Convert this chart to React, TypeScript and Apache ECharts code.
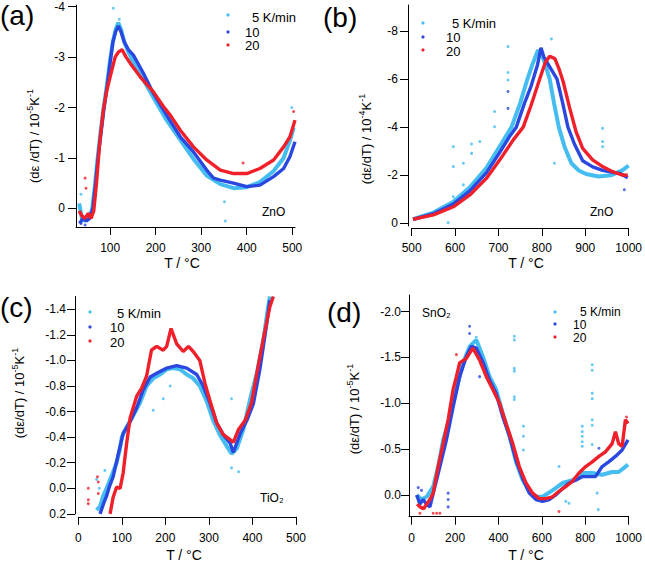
import React, { useEffect, useRef } from 'react';
import * as echarts from 'echarts';

const FONT = "'Liberation Sans', Arial, Helvetica, sans-serif";
const RATES = ['5 K/min', '10', '20'];
const COLORS = ['#45bdf0', '#2a48e0', '#f0202a'];

// ---------- (a) ZnO, 10^-5 K^-1 ----------
const A_XTICKS = [100, 200, 300, 400, 500];
const A_YTICKS = [-4, -3, -2, -1, 0];
const A_LB = [[32,-0.1],[38,0.2],[44,0.25],[50,0.15],[55,0.12],[60,0.05],[66,-0.4],[72,-0.95],[78,-1.45],[85,-1.95],[93,-2.45],[100,-2.95],[106,-3.3],[112,-3.55],[118,-3.68],[124,-3.55],[131,-3.3],[140,-3.1],[151,-2.9],[173,-2.55],[195,-2.2],[224,-1.75],[254,-1.36],[283,-0.98],[312,-0.65],[342,-0.48],[371,-0.4],[400,-0.42],[429,-0.52],[459,-0.74],[481,-1.0],[495,-1.35],[503,-1.6]];
const A_B = [[33,0.3],[40,0.2],[48,0.25],[55,0.2],[62,0.0],[68,-0.5],[74,-1.05],[80,-1.5],[86,-1.95],[93,-2.4],[100,-2.9],[106,-3.3],[112,-3.5],[118,-3.62],[124,-3.5],[131,-3.3],[140,-3.15],[151,-3.04],[173,-2.68],[195,-2.28],[224,-1.85],[254,-1.42],[283,-1.12],[312,-0.76],[327,-0.6],[342,-0.56],[371,-0.5],[400,-0.43],[429,-0.46],[459,-0.63],[481,-0.79],[495,-1.03],[506,-1.32]];
const A_R = [[32,0.05],[38,0.15],[45,0.2],[52,0.1],[58,0.2],[64,0.05],[70,-0.5],[77,-1.3],[85,-1.95],[93,-2.35],[100,-2.61],[111,-3.0],[118,-3.1],[126,-3.15],[135,-3.0],[144,-2.88],[166,-2.61],[195,-2.31],[217,-2.02],[232,-1.85],[254,-1.55],[283,-1.22],[312,-0.96],[342,-0.76],[371,-0.69],[400,-0.69],[429,-0.79],[459,-0.96],[481,-1.22],[495,-1.42],[506,-1.75]];
const A_OUT_LB = [[107,-3.97],[120,-3.75],[351,-0.13],[353,0.25],[499,-2.0],[36,-0.28]];
const A_OUT_B = [[36,0.3],[45,0.33]];
const A_OUT_R = [[45,-0.6],[47,-0.4],[392,-0.9],[503,-1.92]];

// ---------- (b) ZnO, 10^-4 K^-1 ----------
const B_XTICKS = [500, 600, 700, 800, 900, 1000];
const B_YTICKS = [-8, -6, -4, -2, 0];
const B_LB = [[503,-0.17],[550,-0.45],[596,-0.9],[634,-1.5],[672,-2.3],[703,-3.2],[730,-4.0],[750,-5.0],[765,-5.9],[778,-6.6],[791,-7.2],[800,-7.0],[808,-6.6],[818,-6.0],[828,-5.0],[839,-4.0],[852,-3.2],[868,-2.5],[885,-2.2],[902,-2.05],[930,-1.95],[960,-2.0],[985,-2.2],[1000,-2.4]];
const B_B = [[503,-0.17],[550,-0.4],[596,-0.8],[634,-1.35],[672,-2.1],[703,-2.95],[725,-3.6],[741,-4.0],[760,-5.0],[775,-5.7],[790,-6.6],[798,-7.3],[805,-6.9],[815,-6.6],[825,-6.3],[835,-6.0],[848,-5.0],[860,-4.0],[875,-3.3],[894,-2.6],[917,-2.35],[940,-2.2],[963,-2.12],[979,-2.08],[998,-1.9]];
const B_R = [[503,-0.17],[550,-0.35],[596,-0.69],[634,-1.18],[672,-1.87],[703,-2.64],[734,-3.47],[757,-4.0],[775,-4.9],[795,-6.0],[808,-6.7],[818,-6.95],[830,-6.85],[840,-6.4],[849,-5.9],[864,-4.8],[879,-3.8],[894,-3.12],[917,-2.64],[940,-2.36],[963,-2.15],[986,-2.01],[998,-2.0]];
const B_OUT_LB = [[596,-3.19],[596,-2.36],[596,-1.11],[619,-2.5],[619,-1.6],[638,-3.3],[638,-2.91],[657,-3.4],[691,-4.65],[691,-4.02],[722,-7.35],[722,-6.27],[722,-5.96],[822,-7.67],[829,-2.5],[940,-3.95],[940,-3.4],[940,-3.19],[584,-0.03]];
const B_OUT_B = [[722,-5.48],[722,-4.78],[990,-1.4]];
const B_OUT_R = [];

// ---------- (c) TiO2, 10^-5 K^-1 ----------
const C_XTICKS = [0, 100, 200, 300, 400, 500];
const C_YTICKS = [-1.4, -1.2, -1.0, -0.8, -0.6, -0.4, -0.2, 0.0, 0.2];
const C_LB = [[42,0.17],[50,0.14],[57,0.06],[65,0.0],[73,-0.07],[80,-0.13],[88,-0.2],[95,-0.3],[100,-0.4],[111,-0.48],[126,-0.57],[142,-0.67],[157,-0.8],[172,-0.86],[188,-0.89],[203,-0.93],[218,-0.94],[234,-0.93],[249,-0.89],[264,-0.86],[279,-0.8],[295,-0.68],[310,-0.53],[325,-0.42],[341,-0.33],[352,-0.27],[364,-0.31],[379,-0.46],[394,-0.69],[410,-0.9],[425,-1.16],[436,-1.42],[440,-1.5]];
const C_B = [[50,0.2],[58,0.12],[65,0.06],[72,-0.02],[80,-0.09],[92,-0.27],[103,-0.43],[119,-0.52],[134,-0.63],[149,-0.77],[165,-0.87],[180,-0.9],[203,-0.94],[226,-0.96],[249,-0.94],[272,-0.89],[287,-0.8],[302,-0.67],[318,-0.51],[333,-0.42],[349,-0.35],[356,-0.28],[372,-0.43],[387,-0.53],[402,-0.66],[417,-0.93],[433,-1.29],[440,-1.47]];
const C_R = [[73,0.2],[80,0.07],[88,-0.01],[96,0.0],[103,-0.12],[111,-0.35],[119,-0.55],[134,-0.72],[145,-0.78],[157,-0.88],[168,-1.08],[180,-1.11],[195,-1.08],[203,-1.11],[213,-1.25],[226,-1.13],[241,-1.07],[253,-1.11],[264,-1.07],[279,-1.0],[291,-0.82],[302,-0.69],[318,-0.51],[333,-0.42],[349,-0.38],[356,-0.36],[368,-0.46],[383,-0.53],[398,-0.67],[410,-0.9],[425,-1.17],[440,-1.42],[448,-1.5]];
const C_OUT_LB = [[352,-0.7],[352,-0.16],[368,-0.13],[195,-0.7],[172,-0.61],[211,-0.8],[61,-0.14],[42,-0.07],[60,0.1],[48,0.0]];
const C_OUT_B = [];
const C_OUT_R = [[23,0.0],[23,0.09],[23,0.12],[44,-0.09],[46,-0.05],[46,0.04]];

// ---------- (d) SnO2, 10^-5 K^-1 ----------
const D_XTICKS = [0, 200, 400, 600, 800, 1000];
const D_YTICKS = [-2.0, -1.5, -1.0, -0.5, 0.0];
const D_LB = [[23,0.0],[45,0.05],[69,0.02],[99,-0.09],[122,-0.31],[145,-0.6],[176,-0.85],[206,-1.15],[237,-1.44],[267,-1.62],[298,-1.69],[328,-1.51],[359,-1.29],[389,-1.15],[420,-0.89],[451,-0.64],[481,-0.36],[512,-0.16],[542,-0.04],[573,0.02],[603,0.02],[649,-0.05],[695,-0.13],[741,-0.16],[787,-0.24],[832,-0.24],[878,-0.22],[924,-0.25],[954,-0.25],[997,-0.33]];
const D_B = [[23,0.0],[38,0.1],[53,0.05],[68,0.1],[84,0.13],[107,-0.09],[130,-0.31],[160,-0.6],[191,-0.96],[221,-1.29],[252,-1.51],[275,-1.62],[298,-1.6],[328,-1.45],[359,-1.25],[389,-1.11],[420,-0.85],[451,-0.64],[481,-0.38],[512,-0.18],[542,-0.02],[573,0.05],[603,0.07],[634,0.05],[664,0.0],[695,-0.07],[725,-0.13],[756,-0.16],[787,-0.2],[817,-0.2],[847,-0.2],[878,-0.31],[908,-0.36],[939,-0.42],[970,-0.49],[997,-0.6]];
const D_R = [[25,0.1],[38,0.13],[55,0.15],[69,0.1],[84,0.05],[99,-0.02],[122,-0.31],[145,-0.56],[168,-0.82],[191,-1.15],[206,-1.29],[221,-1.44],[252,-1.49],[282,-1.6],[313,-1.47],[344,-1.29],[374,-1.15],[405,-1.0],[435,-0.78],[466,-0.56],[496,-0.31],[527,-0.13],[557,-0.02],[588,0.04],[618,0.04],[649,0.02],[679,-0.04],[710,-0.09],[741,-0.15],[771,-0.24],[802,-0.31],[832,-0.36],[863,-0.42],[893,-0.47],[924,-0.56],[939,-0.69],[954,-0.56],[970,-0.53],[985,-0.82],[997,-0.78]];
const D_OUT_LB = [[473,-1.73],[473,-1.69],[473,-1.38],[473,-1.35],[473,-1.07],[473,-1.04],[515,-0.75],[515,-0.64],[515,-0.49],[786,-0.75],[786,-0.69],[786,-0.64],[786,-0.58],[786,-0.53],[832,-1.42],[832,-1.36],[832,-1.11],[832,-1.05],[832,-0.82],[832,-0.76],[832,-0.55],[860,0.16],[855,-0.02],[679,-0.31],[710,0.07],[725,0.09],[298,-1.72]];
const D_OUT_B = [[267,-1.84],[267,-1.76],[168,-0.02],[168,0.05],[168,0.13],[313,-1.29],[863,-0.51],[30,-0.08],[45,-0.05]];
const D_OUT_R = [[38,0.2],[99,0.2],[115,0.2],[130,0.2],[679,0.18],[206,-1.53],[990,-0.85]];

const PANELS = [
  {
    grid: { left: 76, top: 5.2, width: 219, height: 221.8 },
    x: { min: 25, max: 506, ticks: A_XTICKS, offset: 0, margin: 15 },
    y: { min: -4.03, max: 0.37, ticks: A_YTICKS, offset: 0, dec: 0, margin: 11 },
    lines: [A_LB, A_B, A_R],
    outs: [A_OUT_LB, A_OUT_B, A_OUT_R],
  },
  {
    grid: { left: 411.7, top: 5, width: 217.6, height: 221 },
    x: { min: 500, max: 1000, ticks: B_XTICKS, offset: 2, margin: 14 },
    y: { min: -9.08, max: 0.11, ticks: B_YTICKS, offset: 3.7, dec: 0, margin: 10 },
    lines: [B_LB, B_B, B_R],
    outs: [B_OUT_LB, B_OUT_B, B_OUT_R],
  },
  {
    grid: { left: 78.3, top: 296.5, width: 217.7, height: 217.4 },
    x: { min: 0, max: 500, ticks: C_XTICKS, offset: 3, margin: 15 },
    y: { min: -1.5, max: 0.2, ticks: C_YTICKS, offset: 3.3, dec: 1, margin: 9 },
    lines: [C_LB, C_B, C_R],
    outs: [C_OUT_LB, C_OUT_B, C_OUT_R],
  },
  {
    grid: { left: 409, top: 295, width: 221, height: 221.7 },
    x: { min: -12.4, max: 1000, ticks: D_XTICKS, offset: 0, margin: 15 },
    y: { min: -2.18, max: 0.237, ticks: D_YTICKS, offset: 0, dec: 1, margin: 8 },
    lines: [D_LB, D_B, D_R],
    outs: [D_OUT_LB, D_OUT_B, D_OUT_R],
  },
];

const LEGENDS = [
  { dotX: 228, dotY: [15, 32, 45], tx: [252, 245, 245], ty: [17, 32, 45.5], fs: 13 },
  { dotX: 423, dotY: [23, 37, 50], tx: [452, 446, 446], ty: [23, 37, 51], fs: 13 },
  { dotX: 90, dotY: [312, 327, 341], tx: [117, 110, 110], ty: [313, 327, 342], fs: 13 },
  { dotX: 555, dotY: [312, 324, 337], tx: [580, 573, 573], ty: [312, 325, 338], fs: 12 },
];
const PANEL_LABELS = [
  { t: '(a)', x: 0, y: 15 },
  { t: '(b)', x: 323, y: 17 },
  { t: '(c)', x: 0, y: 307 },
  { t: '(d)', x: 327, y: 312 },
];
const MATERIALS = [
  { t: 'ZnO', x: 262, y: 212 },
  { t: 'ZnO', x: 590, y: 212 },
  { t: 'TiO₂', x: 260, y: 498 },
  { t: 'SnO₂', x: 422, y: 313 },
];
// y titles: [base text, exponent of ten]
const YTITLES = [
  { t: '(dε /dT) / 10', e: '-5', x: 33, y: 136 },
  { t: '(dε/dT) / 10', e: '-4', x: 365, y: 139 },
  { t: '(dε/dT) / 10', e: '-5', x: 18, y: 393 },
  { t: '(dε/dT) / 10', e: '-5', x: 353, y: 409 },
];
const XTITLES = [
  { t: 'T / °C', x: 182, y: 263 },
  { t: 'T / °C', x: 526, y: 263 },
  { t: 'T / °C', x: 184, y: 555 },
  { t: 'T / °C', x: 526, y: 555 },
];

function buildOption() {
  const grid: any[] = [];
  const xAxis: any[] = [];
  const yAxis: any[] = [];
  const series: any[] = [];
  PANELS.forEach((p, i) => {
    grid.push({ ...p.grid, containLabel: false });
    xAxis.push({
      type: 'value', gridIndex: i, min: p.x.min, max: p.x.max, offset: p.x.offset,
      axisLine: { show: true, onZero: false, lineStyle: { color: '#000', width: 1 } },
      axisTick: { show: true, length: 8, customValues: p.x.ticks, lineStyle: { color: '#000' } },
      axisLabel: { customValues: p.x.ticks, margin: p.x.margin, fontSize: 12, color: '#000', fontFamily: FONT, formatter: (v: number) => String(v) },
      splitLine: { show: false },
    });
    yAxis.push({
      type: 'value', gridIndex: i, inverse: true, min: p.y.min, max: p.y.max, offset: p.y.offset,
      axisLine: { show: true, onZero: false, lineStyle: { color: '#000', width: 1 } },
      axisTick: { show: true, length: 8, customValues: p.y.ticks, lineStyle: { color: '#000' } },
      axisLabel: { customValues: p.y.ticks, margin: p.y.margin, fontSize: 12, color: '#000', fontFamily: FONT, formatter: (v: number) => (p.y.dec ? v.toFixed(p.y.dec) : String(Math.round(v))) },
      splitLine: { show: false },
    });
    p.lines.forEach((d, k) => {
      series.push({
        type: 'line', name: RATES[k], xAxisIndex: i, yAxisIndex: i, data: d,
        showSymbol: false, symbol: 'none', silent: true, z: 2 + k,
        lineStyle: { color: COLORS[k], width: k === 0 ? 4 : 3.4 },
      });
    });
    p.outs.forEach((d, k) => {
      if (!d.length) return;
      series.push({
        type: 'scatter', name: RATES[k], xAxisIndex: i, yAxisIndex: i, data: d,
        symbol: 'circle', symbolSize: 3, silent: true, z: 2 + k,
        itemStyle: { color: COLORS[k] },
      });
    });
  });

  const graphic: any[] = [];
  LEGENDS.forEach((L) => {
    RATES.forEach((r, k) => {
      graphic.push({ type: 'circle', shape: { cx: L.dotX, cy: L.dotY[k], r: 1.6 }, style: { fill: COLORS[k] }, silent: true });
      graphic.push({ type: 'text', x: L.tx[k], y: L.ty[k], style: { text: r, font: `${L.fs}px ${FONT}`, fill: '#000', textAlign: 'left', textVerticalAlign: 'middle' }, silent: true });
    });
  });
  PANEL_LABELS.forEach((l) => graphic.push({ type: 'text', x: l.x, y: l.y, style: { text: l.t, font: `28px ${FONT}`, fill: '#000', textAlign: 'left', textVerticalAlign: 'middle' }, silent: true }));
  MATERIALS.forEach((l) => graphic.push({ type: 'text', x: l.x, y: l.y, style: { text: l.t, font: `12px ${FONT}`, fill: '#000', textAlign: 'left', textVerticalAlign: 'middle' }, silent: true }));
  YTITLES.forEach((l) => graphic.push({
    type: 'text', x: l.x, y: l.y, rotation: Math.PI / 2, silent: true,
    style: {
      text: `{n|${l.t}}{s|${l.e}}{n|K}{s|-1}`,
      fill: '#000', textAlign: 'center', textVerticalAlign: 'middle',
      rich: {
        n: { fontSize: 13, fontFamily: FONT, fill: '#000', lineHeight: 15, verticalAlign: 'bottom' },
        s: { fontSize: 9, fontFamily: FONT, fill: '#000', lineHeight: 15, verticalAlign: 'top' },
      },
    },
  }));
  XTITLES.forEach((l) => graphic.push({ type: 'text', x: l.x, y: l.y, style: { text: l.t, font: `14px ${FONT}`, fill: '#000', textAlign: 'center', textVerticalAlign: 'middle' }, silent: true }));

  return {
    animation: false,
    backgroundColor: '#fff',
    textStyle: { fontFamily: FONT },
    grid, xAxis, yAxis, series, graphic,
  };
}

export default function App() {
  const ref = useRef<HTMLDivElement>(null);
  useEffect(() => {
    if (!ref.current) return;
    const chart = echarts.init(ref.current, undefined, { renderer: 'svg' });
    chart.setOption(buildOption() as any);
    return () => chart.dispose();
  }, []);
  return <div ref={ref} style={{ position: 'fixed', left: 0, top: 0, width: 645, height: 562, background: '#fff' }} />;
}
